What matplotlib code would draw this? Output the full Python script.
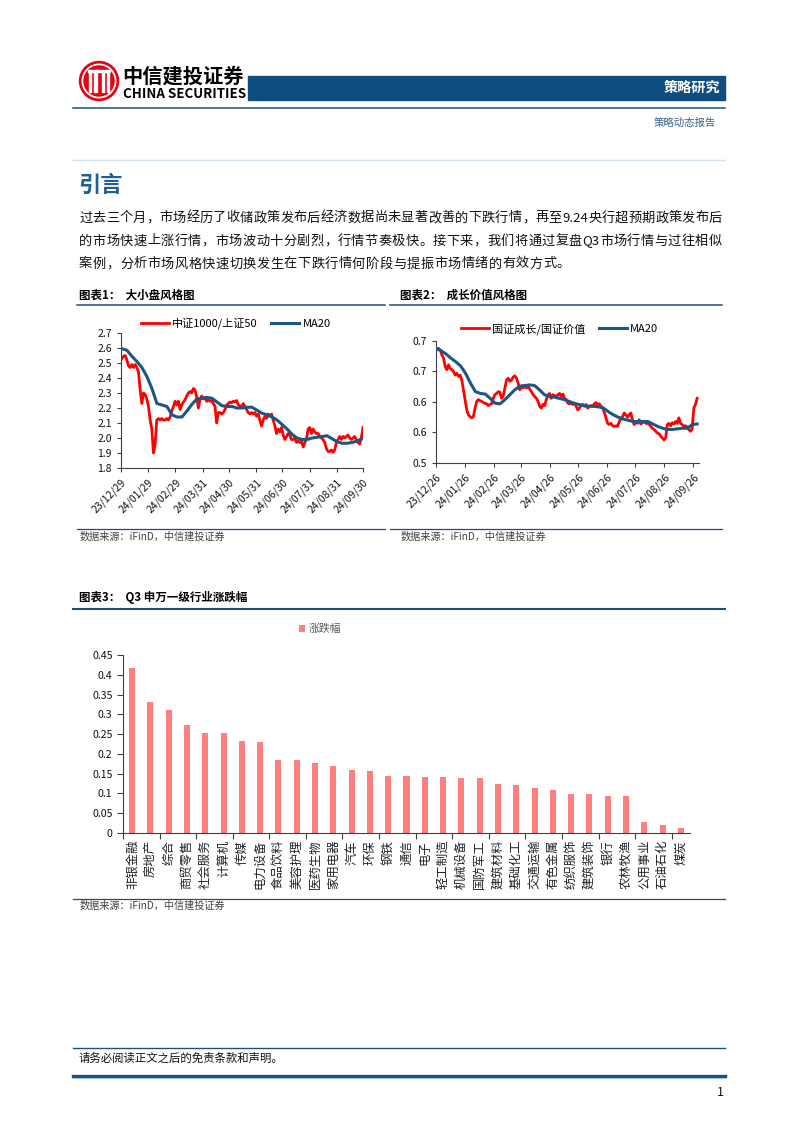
from __future__ import annotations

import matplotlib

matplotlib.use("Agg")
import matplotlib.pyplot as plt
import pandas as pd
from matplotlib.patches import Circle, Rectangle
from matplotlib.ticker import FixedLocator, FormatStrFormatter, FuncFormatter

plt.rcParams["font.family"] = ["Noto Sans CJK SC", "DejaVu Sans"]

W, H = 802, 1133
NAVY = "#0e4d7d"
RULE = "#1f4e79"
RED = "#ff0000"
MA_BLUE = "#1c5784"
BAR = "#ff7f7f"
LOGO_RED = "#e60012"
AXIS = "#404040"

# ---- chart 1: 中证1000/上证50 ----
size_start, size_end = "2023-12-30", "2024-09-30"
size_ratio = [
    2.53, 2.545, 2.55, 2.52, 2.48, 2.47, 2.49, 2.47, 2.49, 2.47,
    2.44, 2.32, 2.23, 2.30, 2.29, 2.26, 2.21, 2.12, 2.06, 1.90,
    1.96, 2.12, 2.13, 2.12, 2.13, 2.12, 2.12, 2.13, 2.12, 2.14,
    2.18, 2.21, 2.245, 2.22, 2.245, 2.19, 2.22, 2.24, 2.255, 2.28,
    2.30, 2.31, 2.30, 2.33, 2.32, 2.27, 2.20, 2.26, 2.28, 2.26,
    2.27, 2.245, 2.255, 2.245, 2.25, 2.23, 2.21, 2.10, 2.17, 2.17,
    2.16, 2.17, 2.19, 2.22, 2.23, 2.24, 2.235, 2.245, 2.24, 2.25,
    2.22, 2.215, 2.21, 2.23, 2.21, 2.19, 2.17, 2.16, 2.17, 2.16,
    2.17, 2.145, 2.16, 2.12, 2.08, 2.12, 2.145, 2.13, 2.16, 2.145,
    2.16, 2.12, 2.08, 2.03, 2.06, 2.04, 2.07, 2.02, 1.99, 2.01,
    2.03, 2.02, 1.99, 1.99, 2.00, 1.97, 1.98, 1.97, 1.98, 1.94,
    1.97, 1.99, 2.06, 2.07, 2.03, 2.06, 2.04, 2.03, 2.03, 2.01,
    2.00, 1.99, 1.97, 1.93, 1.91, 1.91, 1.92, 1.905, 1.92, 1.97,
    1.99, 2.01, 1.99, 2.01, 2.00, 2.01, 2.02, 2.00, 1.99, 2.00,
    2.01, 1.99, 1.97, 1.96, 2.00, 2.07,
]
size_ma_start, size_ma_end = "2023-12-30", "2024-09-29"
size_ma20 = [
    2.595, 2.585, 2.545, 2.51, 2.47, 2.41, 2.33, 2.23, 2.22, 2.21,
    2.155, 2.14, 2.14, 2.18, 2.225, 2.26, 2.265, 2.27, 2.265, 2.24,
    2.215, 2.21, 2.21, 2.20, 2.20, 2.205, 2.205, 2.185, 2.165, 2.155,
    2.14, 2.12, 2.09, 2.06, 2.025, 2.00, 1.99, 1.99, 2.00, 2.005,
    2.01, 2.015, 1.995, 1.975, 1.965, 1.965, 1.97, 1.98, 1.995,
]
size_ticks = ["2023-12-29", "2024-01-29", "2024-02-29", "2024-03-31", "2024-04-30",
              "2024-05-31", "2024-06-30", "2024-07-31", "2024-08-31", "2024-09-30"]

# ---- chart 2: 国证成长/国证价值 ----
growth_start, growth_end = "2023-12-27", "2024-09-30"
growth_ratio = [
    0.686, 0.688, 0.685, 0.677, 0.672, 0.658, 0.653, 0.661, 0.655, 0.653,
    0.650, 0.644, 0.647, 0.642, 0.644, 0.636, 0.620, 0.604, 0.587, 0.579,
    0.576, 0.574, 0.576, 0.590, 0.601, 0.604, 0.602, 0.601, 0.599, 0.598,
    0.597, 0.594, 0.596, 0.597, 0.606, 0.612, 0.614, 0.617, 0.616, 0.606,
    0.610, 0.623, 0.636, 0.639, 0.634, 0.636, 0.641, 0.643, 0.639, 0.631,
    0.620, 0.626, 0.623, 0.626, 0.623, 0.626, 0.621, 0.617, 0.612, 0.609,
    0.606, 0.601, 0.593, 0.590, 0.596, 0.594, 0.604, 0.612, 0.614, 0.606,
    0.612, 0.610, 0.609, 0.612, 0.614, 0.609, 0.613, 0.606, 0.604, 0.598,
    0.597, 0.598, 0.596, 0.598, 0.593, 0.587, 0.590, 0.594, 0.596, 0.593,
    0.596, 0.590, 0.593, 0.594, 0.593, 0.597, 0.599, 0.596, 0.597, 0.593,
    0.590, 0.583, 0.574, 0.565, 0.563, 0.565, 0.561, 0.560, 0.561, 0.560,
    0.568, 0.572, 0.576, 0.582, 0.579, 0.575, 0.579, 0.582, 0.571, 0.563,
    0.568, 0.565, 0.571, 0.564, 0.566, 0.568, 0.565, 0.565, 0.564, 0.560,
    0.557, 0.555, 0.552, 0.549, 0.548, 0.544, 0.541, 0.538, 0.541, 0.563,
    0.565, 0.561, 0.566, 0.564, 0.568, 0.565, 0.574, 0.565, 0.563, 0.560,
    0.561, 0.559, 0.555, 0.552, 0.556, 0.590, 0.596, 0.606,
]
growth_ma_start, growth_ma_end = "2023-12-26", "2024-09-30"
growth_ma20 = [
    0.688, 0.684, 0.679, 0.672, 0.666, 0.659, 0.647, 0.631, 0.617, 0.614,
    0.613, 0.606, 0.598, 0.597, 0.604, 0.612, 0.620, 0.626, 0.627, 0.628,
    0.627, 0.620, 0.612, 0.609, 0.608, 0.606, 0.604, 0.601, 0.598, 0.596,
    0.594, 0.593, 0.593, 0.592, 0.590, 0.584, 0.579, 0.575, 0.572, 0.570,
    0.568, 0.568, 0.568, 0.568, 0.564, 0.560, 0.557, 0.555, 0.555, 0.556,
    0.557, 0.557, 0.563, 0.564,
]
growth_ticks = ["2023-12-26", "2024-01-26", "2024-02-26", "2024-03-26", "2024-04-26",
                "2024-05-26", "2024-06-26", "2024-07-26", "2024-08-26", "2024-09-26"]

# ---- chart 3: Q3 申万一级行业涨跌幅 ----
industries = ["非银金融", "房地产", "综合", "商贸零售", "社会服务", "计算机", "传媒", "电力设备",
              "食品饮料", "美容护理", "医药生物", "家用电器", "汽车", "环保", "钢铁", "通信",
              "电子", "轻工制造", "机械设备", "国防军工", "建筑材料", "基础化工", "交通运输",
              "有色金属", "纺织服饰", "建筑装饰", "银行", "农林牧渔", "公用事业", "石油石化", "煤炭"]
changes = [0.418, 0.330, 0.312, 0.274, 0.254, 0.252, 0.232, 0.229, 0.184, 0.184, 0.177,
           0.169, 0.159, 0.157, 0.145, 0.145, 0.142, 0.142, 0.139, 0.139, 0.124, 0.122,
           0.115, 0.109, 0.099, 0.099, 0.094, 0.094, 0.029, 0.020, 0.012]

intro_lines = [
    "过去三个月，市场经历了收储政策发布后经济数据尚未显著改善的下跌行情，再至 9.24 央行超预期政策发布后",
    "的市场快速上涨行情，市场波动十分剧烈，行情节奏极快。接下来，我们将通过复盘 Q3 市场行情与过往相似",
    "案例，分析市场风格快速切换发生在下跌行情何阶段与提振市场情绪的有效方式。",
]
source_text = "数据来源：iFinD，中信建投证券"


def box(left, top, right, bottom):
    return [left / W, 1 - bottom / H, (right - left) / W, (bottom - top) / H]


def split_tokens(line):
    out, buf = [], ""
    for ch in line:
        if ch.isascii() and ch != " ":
            buf += ch
            continue
        if buf:
            out.append(buf)
            buf = ""
        if ch != " ":
            out.append(ch)
    if buf:
        out.append(buf)
    return out


def write_line(page, renderer, line, x0, x1, y, size, justify):
    items = [page.text(0, y, tok, fontsize=size, va="center", ha="left", color="#111111")
             for tok in split_tokens(line)]
    widths = [t.get_window_extent(renderer).width for t in items]
    gap = (x1 - x0 - sum(widths)) / (len(items) - 1) if justify else 0.4
    x = x0
    for t, w in zip(items, widths):
        t.set_x(x)
        x += w + gap


def draw_header(page):
    page.add_patch(Circle((99, 81), 19.5, color=LOGO_RED))
    page.add_patch(Circle((99, 81), 16.8, color="white"))
    page.add_patch(Circle((99, 81), 15.0, color=LOGO_RED))
    for x in (90.0, 95.3, 102.7, 108.0):
        page.add_patch(Rectangle((x - 1.2, 71), 2.4, 21, color="white"))
    page.add_patch(Rectangle((88, 70), 22, 2.2, color="white"))
    page.text(122, 76, "中信建投证券", fontsize=14.6, fontweight="bold", va="center", ha="left")
    page.text(123, 94, "CHINA SECURITIES", fontsize=9.6, fontweight="bold", va="center", ha="left")

    page.add_patch(Rectangle((248, 76), 477, 24, color=NAVY))
    page.text(720, 88, "策略研究", fontsize=10.2, fontweight="bold", color="white",
              va="center", ha="right")
    page.plot([73, 725], [107.5, 107.5], color=RULE, lw=1.1)
    page.text(716, 123, "策略动态报告", fontsize=7.5, color="#3a6488", va="center", ha="right")
    page.plot([73, 725], [160, 160], color="#d5e1ec", lw=1.0)
    page.text(78, 185, "引言", fontsize=16, fontweight="bold", color="#1f5f96", va="center", ha="left")


def draw_frames(page):
    # figure captions, rules and source notes
    page.text(79, 295, "图表1：  大小盘风格图", fontsize=8.3, fontweight="bold", va="center")
    page.text(400, 295, "图表2：  成长价值风格图", fontsize=8.3, fontweight="bold", va="center")
    page.plot([77, 385], [304.5, 304.5], color=RULE, lw=1.1)
    page.plot([390, 722], [304.5, 304.5], color=RULE, lw=1.1)
    page.plot([77, 385], [528.5, 528.5], color=RULE, lw=0.9)
    page.plot([390, 722], [528.5, 528.5], color=RULE, lw=0.9)
    page.text(80, 537, source_text, fontsize=7.3, color="#404040", va="center", style="italic")
    page.text(401, 537, source_text, fontsize=7.3, color="#404040", va="center", style="italic")

    page.text(79, 598, "图表3：  Q3 申万一级行业涨跌幅", fontsize=8.3, fontweight="bold", va="center")
    page.plot([73, 725], [608.5, 608.5], color=RULE, lw=1.5)
    page.plot([73, 725], [898.5, 898.5], color=RULE, lw=0.9)
    page.text(80, 906, source_text, fontsize=7.3, color="#404040", va="center", style="italic")

    page.plot([73, 725], [1047.5, 1047.5], color=RULE, lw=1.0)
    page.text(79, 1058, "请务必阅读正文之后的免责条款和声明。", fontsize=8.2, color="#111111", va="center")
    page.plot([73, 725], [1076, 1076], color=RULE, lw=2.4)
    page.plot([73, 725], [1078.3, 1078.3], color="#9dc3e6", lw=0.8)
    page.text(724, 1093, "1", fontsize=9, color="#111111", va="center", ha="right")


def style_line_axes(ax):
    ax.spines[["top", "right"]].set_visible(False)
    for side in ("left", "bottom"):
        ax.spines[side].set_color(AXIS)
        ax.spines[side].set_linewidth(0.8)
    ax.tick_params(axis="both", colors=AXIS, labelcolor="#111111", labelsize=7.5, length=3,
                   width=0.8, direction="out")


def draw_size_chart(fig):
    ax = fig.add_axes(box(121, 333, 363, 468))
    ratio_dates = pd.date_range(size_start, size_end, periods=len(size_ratio))
    ma_dates = pd.date_range(size_ma_start, size_ma_end, periods=len(size_ma20))
    ax.plot(ratio_dates, size_ratio, color=RED, lw=2.0, label="中证1000/上证50", zorder=2)
    ax.plot(ma_dates, size_ma20, color=MA_BLUE, lw=2.2, label="MA20", zorder=3)
    ax.set_xlim(pd.Timestamp(size_ticks[0]), pd.Timestamp(size_ticks[-1]))
    ax.set_ylim(1.8, 2.7)
    ax.yaxis.set_major_locator(FixedLocator([1.8 + 0.1 * i for i in range(10)]))
    ax.yaxis.set_major_formatter(FormatStrFormatter("%.1f"))
    ticks = pd.to_datetime(size_ticks)
    ax.set_xticks(ticks, [t.strftime("%y/%m/%d") for t in ticks], rotation=45, ha="right",
                  rotation_mode="anchor")
    style_line_axes(ax)
    ax.legend(loc="center", bbox_to_anchor=(0.475, 1.07), ncols=2, frameon=False, fontsize=8,
              handlelength=2.5, columnspacing=1.2, handletextpad=0.3)


def draw_growth_chart(fig):
    ax = fig.add_axes(box(436, 341, 699, 463))
    ratio_dates = pd.date_range(growth_start, growth_end, periods=len(growth_ratio))
    ma_dates = pd.date_range(growth_ma_start, growth_ma_end, periods=len(growth_ma20))
    ax.plot(ratio_dates, growth_ratio, color=RED, lw=2.0, label="国证成长/国证价值", zorder=2)
    ax.plot(ma_dates, growth_ma20, color=MA_BLUE, lw=2.2, label="MA20", zorder=3)
    ax.set_xlim(pd.Timestamp(growth_ticks[0]), pd.Timestamp("2024-10-02"))
    ax.set_ylim(0.5, 0.7)
    ax.yaxis.set_major_locator(FixedLocator([0.5, 0.55, 0.6, 0.65, 0.7]))
    ax.yaxis.set_major_formatter(FormatStrFormatter("%.1f"))
    ticks = pd.to_datetime(growth_ticks)
    ax.set_xticks(ticks, [t.strftime("%y/%m/%d") for t in ticks], rotation=45, ha="right",
                  rotation_mode="anchor")
    style_line_axes(ax)
    ax.legend(loc="center", bbox_to_anchor=(0.47, 1.10), ncols=2, frameon=False, fontsize=8,
              handlelength=2.5, columnspacing=1.2, handletextpad=0.3)


def draw_industry_chart(fig):
    ax = fig.add_axes(box(123, 655, 690, 833))
    positions = list(range(len(industries)))
    ax.bar(positions, changes, width=0.33, color=BAR, label="涨跌幅")
    ax.set_xlim(-0.5, len(industries) - 0.5)
    ax.set_ylim(0, 0.45)
    ax.yaxis.set_major_locator(FixedLocator([0.05 * i for i in range(10)]))
    ax.yaxis.set_major_formatter(FuncFormatter(lambda v, _: f"{round(v, 2):g}"))
    ax.set_xticks(positions, industries, fontsize=8.9, rotation=90, ha="center", va="top",
                  color="#222222")
    # category ticks are drawn every second boundary
    ax.xaxis.set_minor_locator(FixedLocator([i - 0.5 for i in range(0, len(industries) + 1, 2)]))
    ax.tick_params(axis="x", which="major", length=0, pad=5)
    ax.tick_params(axis="x", which="minor", length=4, width=0.8, color=AXIS, direction="out")
    ax.tick_params(axis="y", length=4, width=0.8, color=AXIS, labelsize=7.6,
                   labelcolor="#111111", direction="out")
    ax.spines[["top", "right"]].set_visible(False)
    for side in ("left", "bottom"):
        ax.spines[side].set_color(AXIS)
        ax.spines[side].set_linewidth(0.8)
    legend = ax.legend(loc="center", bbox_to_anchor=(0.347, 1.146), frameon=False, fontsize=7.8,
                       handlelength=0.6, handleheight=0.6, handletextpad=0.3)
    for text in legend.get_texts():
        text.set_color("#595959")


def main() -> int:
    fig = plt.figure(figsize=(W / 100, H / 100), dpi=100)
    page = fig.add_axes([0, 0, 1, 1])
    page.set_xlim(0, W)
    page.set_ylim(H, 0)
    page.axis("off")

    draw_header(page)
    renderer = fig.canvas.get_renderer()
    for i, line in enumerate(intro_lines):
        write_line(page, renderer, line, 79, 722, 218 + 23 * i, 9.5, justify=i < 2)
    draw_frames(page)

    draw_size_chart(fig)
    draw_growth_chart(fig)
    draw_industry_chart(fig)

    fig.savefig("out.png", dpi=100)
    plt.close(fig)
    return 0


if __name__ == "__main__":
    raise SystemExit(main())
